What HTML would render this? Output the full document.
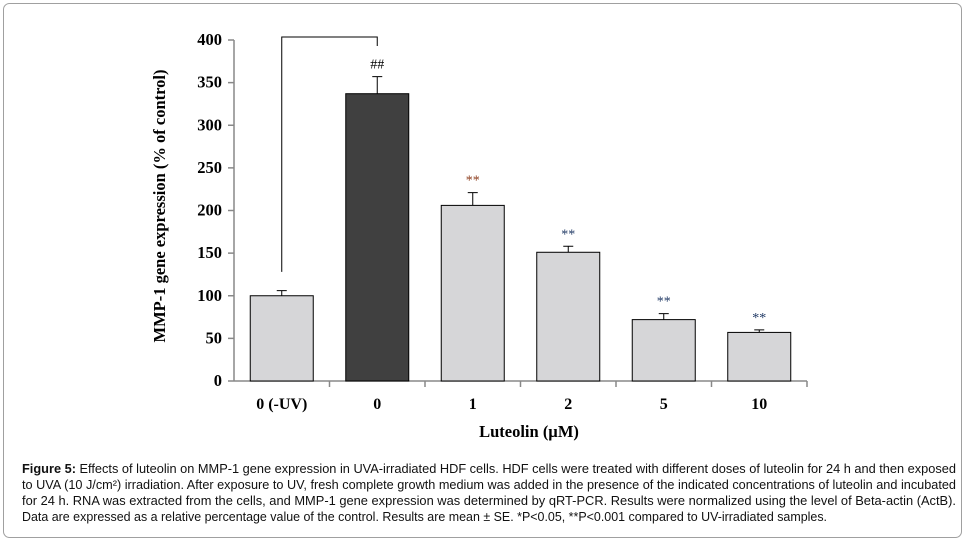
<!DOCTYPE html>
<html><head><meta charset="utf-8"><style>
html,body{margin:0;padding:0;background:#fff;}
svg{display:block;}
</style></head><body>
<svg width="968" height="546" viewBox="0 0 968 546">
<rect x="3.5" y="3.5" width="958" height="534" rx="6" fill="#fff" stroke="#a0a0a0"/>
<g id="chart"></g>
<g font-family="Liberation Sans, Arial, sans-serif" font-size="12.5" fill="#111">
<text x="22" y="473" textLength="934" lengthAdjust="spacingAndGlyphs"><tspan font-weight="bold">Figure 5:</tspan> Effects of luteolin on MMP-1 gene expression in UVA-irradiated HDF cells. HDF cells were treated with different doses of luteolin for 24 h and then exposed</text>
<text x="22" y="489" textLength="934" lengthAdjust="spacingAndGlyphs">to UVA (10 J/cm²) irradiation. After exposure to UV, fresh complete growth medium was added in the presence of the indicated concentrations of luteolin and incubated</text>
<text x="22" y="505" textLength="934" lengthAdjust="spacingAndGlyphs">for 24 h. RNA was extracted from the cells, and MMP-1 gene expression was determined by qRT-PCR. Results were normalized using the level of Beta-actin (ActB).</text>
<text x="22" y="521" textLength="805" lengthAdjust="spacingAndGlyphs">Data are expressed as a relative percentage value of the control. Results are mean ± SE. *P&lt;0.05, **P&lt;0.001 compared to UV-irradiated samples.</text>
</g>
</svg>
<script>
const categories=["0 (-UV)","0","1","2","5","10"];
const values=[100,337,206,151,72,57];
const errors=[6,20,15,7,7,3];
const marks=["","##","**","**","**","**"];
const yTicks=[0,50,100,150,200,250,300,350,400];
const NS="http://www.w3.org/2000/svg";
const g=document.getElementById("chart");
const x0=234,y0=381,yTop=40,catW=95.5,barW=63;
const y=v=>y0-(v/400)*(y0-yTop);
const cx=i=>x0+catW*i+catW/2;
function mk(t,a,p){const e=document.createElementNS(NS,t);for(const k in a)e.setAttribute(k,a[k]);(p||g).appendChild(e);return e;}
let e=mk("line",{x1:x0,y1:yTop,x2:x0,y2:y0,stroke:"#888","stroke-width":1.5});


e=mk("line",{x1:x0,y1:y0,x2:x0+catW*6,y2:y0,stroke:"#888","stroke-width":1.5});


yTicks.forEach(v=>{
 mk("line",{x1:x0-6,y1:y(v),x2:x0,y2:y(v),stroke:"#888","stroke-width":1.5});
 const t=mk("text",{x:x0-12,y:y(v)+5,"text-anchor":"end","font-family":"Liberation Serif, serif","font-weight":"bold","font-size":"16.5"});
 t.textContent=v;
 
 
});
for(let i=1;i<=6;i++)mk("line",{x1:x0+catW*i,y1:y0,x2:x0+catW*i,y2:y0+6,stroke:"#888","stroke-width":1.5});
categories.forEach((c,i)=>{
 const b=mk("rect",{x:cx(i)-barW/2,y:y(values[i]),width:barW,height:y0-y(values[i]),fill:i==1?"#404040":"#d6d6d8",stroke:"#000","stroke-width":1});
 
 
 const eb=mk("path",{d:`M${cx(i)} ${y(values[i])}V${y(values[i]+errors[i])}M${cx(i)-5} ${y(values[i]+errors[i])}H${cx(i)+5}`,stroke:"#000","stroke-width":1,fill:"none"});
 
 
 if(marks[i]){const m=mk("text",{x:cx(i),y:y(values[i]+errors[i])-8,"text-anchor":"middle","font-family":"Liberation Serif, serif","font-size":"14",fill:i==1?"#000":(i==2?"#8b3a1a":"#1f3864")});
 m.textContent=marks[i];
 
 }
 const t=mk("text",{x:cx(i),y:409,"text-anchor":"middle","font-family":"Liberation Serif, serif","font-weight":"bold","font-size":"16"});
 t.textContent=c;
 
 
});
const br=mk("path",{d:`M${cx(0)} ${y(128)}V37H${cx(1)}V46`,stroke:"#000","stroke-width":1,fill:"none"});


let t=mk("text",{x:529,y:437,"text-anchor":"middle","font-family":"Liberation Serif, serif","font-weight":"bold","font-size":"16.5"});
t.textContent="Luteolin (µM)";


t=mk("text",{x:0,y:0,transform:"translate(165,206) rotate(-90)","text-anchor":"middle","font-family":"Liberation Serif, serif","font-weight":"bold","font-size":"16.5"});
t.textContent="MMP-1 gene expression  (% of control)";


</script>
</body></html>
